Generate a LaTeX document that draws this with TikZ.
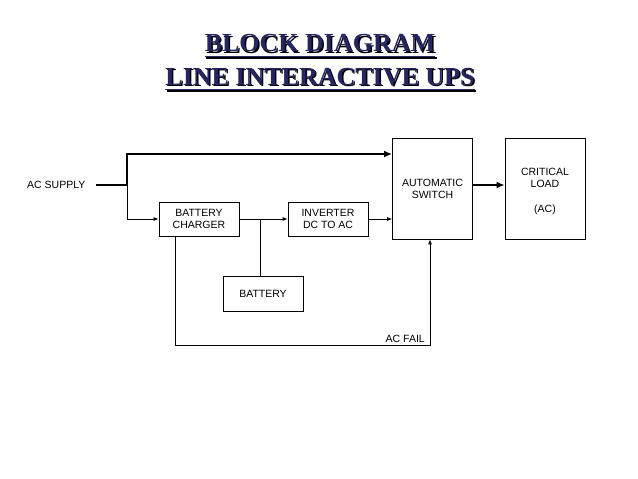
\documentclass[tikz,border=0pt]{standalone}
\usepackage{fontspec}
\setmainfont{Liberation Sans}
\newfontfamily\titlefont{Liberation Serif}
\usetikzlibrary{arrows.meta}
\definecolor{navy}{RGB}{38,38,96}
\newcommand{\shadowed}[1]{\makebox[0pt][l]{\hspace{1.5pt}\raisebox{-1.5pt}{\color{black}#1}}#1}
\begin{document}
\begin{tikzpicture}[x=1pt,y=-1pt,
  box/.style={draw,line width=0.8pt,inner sep=0pt},
  lbl/.style={font=\fontsize{10.5}{12.5}\selectfont,align=center,inner sep=0pt},
  thin/.style={line width=0.8pt,-{Latex[length=5pt,width=4pt]}},
  plain/.style={line width=0.8pt},
  heavy/.style={line width=2.6pt,-{Latex[length=8pt,width=7pt]}},
  ttl/.style={font=\titlefont\bfseries\fontsize{26}{30}\selectfont,inner sep=0pt,anchor=base,text=navy}]
\useasboundingbox (0,0) rectangle (638,479);
\fill[white] (0,0) rectangle (638,479);
% title
\node[ttl] (t1) at (320,52) {\shadowed{BLOCK DIAGRAM}};
\node[ttl] (t2) at (320,85) {\shadowed{LINE INTERACTIVE UPS}};
\draw[line width=1.6pt,black] ([shift={(1.5pt,-6pt)}]t1.base west) -- ([shift={(1.5pt,-6pt)}]t1.base east);
\draw[line width=1.6pt,navy] ([yshift=-4.5pt]t1.base west) -- ([yshift=-4.5pt]t1.base east);
\draw[line width=1.6pt,black] ([shift={(1.5pt,-6pt)}]t2.base west) -- ([shift={(1.5pt,-6pt)}]t2.base east);
\draw[line width=1.6pt,navy] ([yshift=-4.5pt]t2.base west) -- ([yshift=-4.5pt]t2.base east);
% boxes
\node[box,minimum width=80pt,minimum height=101pt] (sw) at (432.5,188.5) {};
\node[lbl] at (432.5,189) {AUTOMATIC\\SWITCH};
\node[box,minimum width=80pt,minimum height=101pt] (ld) at (545,188.5) {};
\node[lbl] at (545,178) {CRITICAL\\LOAD};
\node[lbl] at (545,210) {(AC)};
\node[box,minimum width=80pt,minimum height=34pt] (ch) at (199,219) {};
\node[lbl] at (199,219) {BATTERY\\CHARGER};
\node[box,minimum width=80pt,minimum height=34pt] (inv) at (328,219) {};
\node[lbl] at (328,219) {INVERTER\\DC TO AC};
\node[box,minimum width=80pt,minimum height=35pt] (bat) at (263,293.5) {};
\node[lbl] at (263,294) {BATTERY};
% input
\node[lbl,anchor=base west] (ac) at (27,188.5) {AC SUPPLY};
\coordinate (a0) at (96,185);
\coordinate (a1) at (127,185);
\coordinate (a2) at (127,154);
\coordinate (jb) at (260,219);
\coordinate (f1) at (175,345);
\coordinate (f2) at (430,345);
\draw[line width=2.6pt] (a0) -- (a1);
\draw[heavy,line cap=rect] (a1) -- (a2) -- (a2 -| sw.west);
\draw[thin] (a1) |- (ch.west);
\draw[thin] (ch.east) -- (inv.west);
\draw[plain] (jb) -- (bat.north -| jb);
\draw[thin] (inv.east) -- (inv.east -| sw.west);
\draw[heavy] (sw.east |- 0,185) -- (ld.west |- 0,185);
\draw[thin] (f1 |- ch.south) -- (f1) -- (f2) -- (f2 |- sw.south);
\node[lbl,anchor=base east] (acf) at (425,342) {AC FAIL};
\end{tikzpicture}
\end{document}
